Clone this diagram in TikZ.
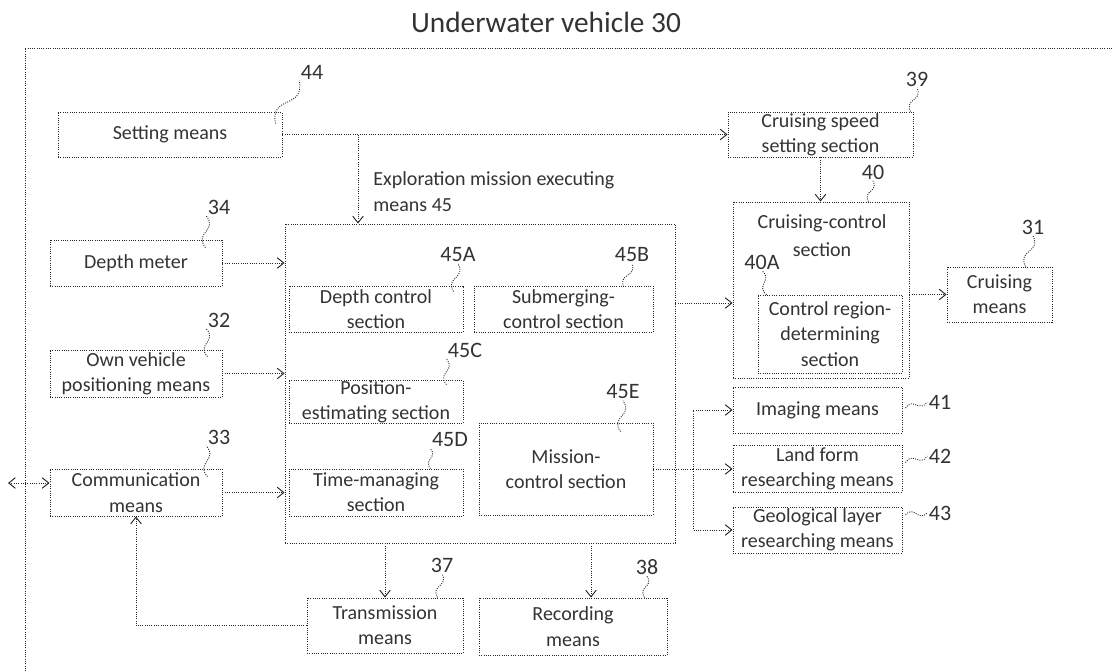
\documentclass[tikz,border=0pt]{standalone}
\usepackage{fontspec}
\setmainfont{Carlito}
\usetikzlibrary{arrows.meta,calc}

\newcommand{\squig}[2]{\draw[lead] (#1) .. controls ($(#1)!0.6!40:(#2)$) and ($(#2)!0.6!40:(#1)$) .. (#2);}

\begin{document}
\begin{tikzpicture}[x=0.75pt,y=-0.75pt,
  box/.style={draw=black!85,densely dotted,line width=0.7pt,align=center,inner sep=0pt,text=black!80,font=\fontsize{15}{19}\selectfont},
  conn/.style={draw=black!85,densely dotted,line width=0.7pt,-{Straight Barb[length=5pt,width=8pt]}},
  lead/.style={draw=black!85,densely dotted,line width=0.7pt},
  num/.style={inner sep=1pt,text=black!80,font=\fontsize{16.5}{19}\selectfont}]
\useasboundingbox (0,0) rectangle (1113,671);
\node[text=black!80,font=\fontsize{22}{26}\selectfont] (title) at (546,22) {Underwater vehicle 30};
\draw[lead] (25,671) |- (1113,48);

\node[box,minimum width=168pt,minimum height=33.75pt] (setm) at (170,134.5) {Setting means};
\node[box,minimum width=129pt,minimum height=34.5pt] (depth) at (136,263) {Depth meter};
\node[box,minimum width=129pt,minimum height=35.25pt] (own) at (136,373.5) {Own vehicle\\positioning means};
\node[box,minimum width=129pt,minimum height=35.25pt] (comm) at (136,492.5) {Communication\\means};
\node[box,minimum width=292.5pt,minimum height=239.25pt] (main) at (480,383.5) {};
\node[box,draw=none,align=left,anchor=west] (n45) at (373,191.5) {Exploration mission executing\\means 45};
\node[box,minimum width=130.5pt,minimum height=34.5pt] (dcs) at (376,309) {Depth control\\section};
\node[box,minimum width=134.25pt,minimum height=34.5pt] (sub) at (563.5,309) {Submerging-\\control section};
\node[box,minimum width=130.5pt,minimum height=32.25pt] (pos) at (376,401.5) {Position-\\estimating section};
\node[box,minimum width=130.5pt,minimum height=35.25pt] (time) at (376,492.5) {Time-managing\\section};
\node[box,minimum width=130.5pt,minimum height=69pt] (miss) at (566,469) {Mission-\\control section};
\node[box,minimum width=117pt,minimum height=41.25pt] (trans) at (385,625.5) {Transmission\\means};
\node[box,minimum width=141pt,minimum height=42.75pt] (rec) at (573,626.5) {Recording\\means};
\node[box,minimum width=138.75pt,minimum height=33.75pt] (speed) at (820.5,134.5) {Cruising speed\\setting section};
\node[box,minimum width=132pt,minimum height=132pt] (cctl) at (821,290) {};
\node[box,draw=none,font=\fontsize{15}{21}\selectfont] (cctlt) at (822,236) {Cruising-control\\section};
\node[box,minimum width=108pt,minimum height=58.5pt] (creg) at (830,334) {Control region-\\determining\\section};
\node[box,minimum width=78.75pt,minimum height=41.25pt] (cruis) at (999.5,294.5) {Cruising\\means};
\node[box,minimum width=126.75pt,minimum height=34.5pt] (img) at (817.5,410) {Imaging means};
\node[box,minimum width=126.75pt,minimum height=35.25pt] (land) at (817.5,468.5) {Land form\\researching means};
\node[box,minimum width=126.75pt,minimum height=34.5pt] (geo) at (817.5,530) {Geological layer\\researching means};

\node[num] (n44) at (312,72) {44};
\node[num] (n34) at (219,207) {34};
\node[num] (n32) at (219,320) {32};
\node[num] (n33) at (219,437) {33};
\node[num] (n45A) at (458,255) {45A};
\node[num] (n45B) at (632,255) {45B};
\node[num] (n45C) at (465,350) {45C};
\node[num] (n45D) at (450,440) {45D};
\node[num] (n45E) at (623,392) {45E};
\node[num] (n37) at (442,565) {37};
\node[num] (n38) at (647,567) {38};
\node[num] (n39) at (917,79) {39};
\node[num] (n40) at (873,172) {40};
\node[num] (n40A) at (762,262) {40A};
\node[num] (n31) at (1033,227) {31};
\node[num] (n41) at (940,402) {41};
\node[num] (n42) at (940,456) {42};
\node[num] (n43) at (940,513) {43};

\coordinate (l44) at ($(setm.north east)+(-7,12)$);
\coordinate (l34) at ($(depth.north east)+(-17,8)$);
\coordinate (l32) at ($(own.north east)+(-15,7)$);
\coordinate (l33) at ($(comm.north east)+(-15,8)$);
\coordinate (l45A) at ($(dcs.north east)+(-10,6)$);
\coordinate (l45B) at ($(sub.north east)+(-30,1)$);
\coordinate (l45C) at ($(pos.north east)+(-17,5)$);
\coordinate (l45D) at ($(time.north east)+(-33,0)$);
\coordinate (l45E) at ($(miss.north east)+(-33,9)$);
\coordinate (l37) at ($(trans.north east)+(-26,0)$);
\coordinate (l38) at ($(rec.north east)+(-23,0)$);
\coordinate (l39) at ($(speed.north east)+(-3,0)$);
\coordinate (l40) at ($(cctl.north east)+(-41,0)$);
\coordinate (l40A) at ($(creg.north west)+(9,0)$);
\coordinate (l31) at ($(cruis.north east)+(-27,0)$);
\coordinate (l41) at ($(img.east)+(3,-2)$);
\coordinate (l42) at ($(land.east)+(3,-6)$);
\coordinate (l43) at ($(geo.north east)+(3,8)$);
\squig{l44}{n44.south west}
\squig{l34}{n34.south west}
\squig{l32}{n32.south west}
\squig{l33}{n33.south west}
\squig{l45A}{n45A.south}
\squig{l45B}{n45B.south}
\squig{l45C}{n45C.south west}
\squig{l45D}{n45D.south west}
\squig{l45E}{n45E.south}
\squig{l37}{n37.south}
\squig{l38}{n38.south}
\squig{l39}{n39.south}
\squig{l40}{n40.south}
\squig{l40A}{n40A.south}
\squig{l31}{n31.south}
\squig{l41}{n41.west}
\squig{l42}{n42.west}
\squig{l43}{n43.west}

\coordinate (br) at (358,134.5);
\coordinate (ext) at (8,483);
\coordinate (fork) at ($(miss.east)+(40,0)$);
\draw[conn] (setm) -- (speed);
\draw[conn] (br) -- (br |- main.north);
\draw[conn] (depth) -- (depth -| main.west);
\draw[conn] (own) -- (own -| main.west);
\draw[conn] (comm) -- (comm -| main.west);
\draw[conn,{Straight Barb[length=5pt,width=8pt]}-{Straight Barb[length=5pt,width=8pt]}] (ext) -- (ext -| comm.west);
\draw[conn] (trans.north |- main.south) -- (trans.north);
\draw[conn] ([xshift=13.5pt]rec.north |- main.south) -- ([xshift=13.5pt]rec.north);
\draw[conn] (trans.west) -| (comm.south);
\draw[conn] (speed.south) -- (speed.south |- cctl.north);
\draw[conn] ([yshift=4.5pt]sub.east -| main.east) -- ([yshift=4.5pt]sub.east -| cctl.west);
\draw[conn] (cruis -| cctl.east) -- (cruis.west);
\draw[lead] (miss.east) -- (fork);
\draw[conn] (fork) |- (img.west);
\draw[conn] (fork) -- (fork -| land.west);
\draw[conn] (fork) |- (geo.west);
\end{tikzpicture}
\end{document}
